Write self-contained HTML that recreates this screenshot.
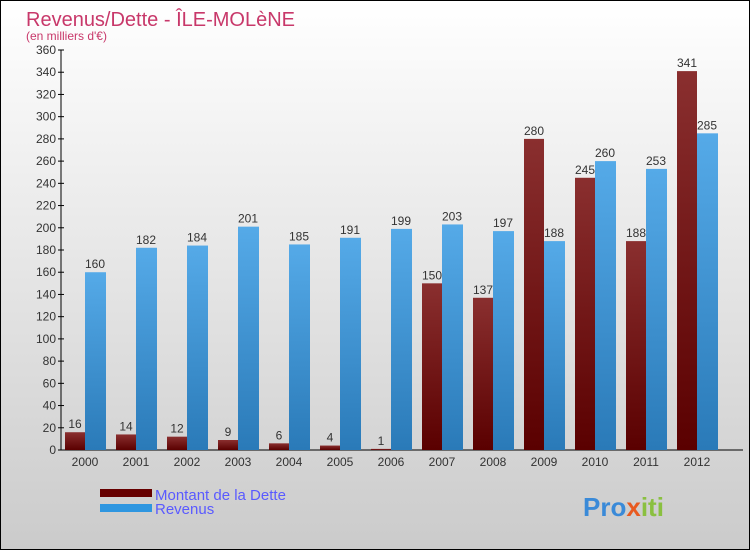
<!DOCTYPE html>
<html><head><meta charset="utf-8"><style>
body{margin:0;width:750px;height:550px;overflow:hidden}
#c{position:absolute;left:0;top:0;width:748px;height:548px;border:1px solid #000;background:linear-gradient(#fff,#cbcbcb)}
svg{position:absolute;left:0;top:0}
text{font-family:"Liberation Sans",sans-serif}
</style></head><body>
<div id="c"></div>
<svg id="s" width="750" height="550">
<defs>
<linearGradient id="gd" x1="0" y1="0" x2="0" y2="1"><stop offset="0" stop-color="#8a2f2f"/><stop offset="1" stop-color="#5a0000"/></linearGradient>
<linearGradient id="gr" x1="0" y1="0" x2="0" y2="1"><stop offset="0" stop-color="#55aae8"/><stop offset="1" stop-color="#2a7ab8"/></linearGradient>
</defs>
<text x="26" y="26" font-size="20" fill="#c8386a">Revenus/Dette - ÎLE-MOLèNE</text>
<text x="26" y="40" font-size="12" fill="#c8386a">(en milliers d'€)</text>
<g id="plot"></g>
<rect x="100" y="489" width="52" height="8" fill="#660000"/>
<text x="155" y="500" font-size="15" fill="#5a5aff">Montant de la Dette</text>
<rect x="100" y="504" width="52" height="8" fill="#2e96e0"/>
<text x="155" y="514" font-size="15" fill="#5a5aff">Revenus</text>
<text x="583" y="516" font-size="26" font-weight="bold"><tspan fill="#3a8ad8">Pro</tspan><tspan fill="#e85a20">x</tspan><tspan fill="#8ac040">iti</tspan></text>
</svg>
<script>
const years=["2000","2001","2002","2003","2004","2005","2006","2007","2008","2009","2010","2011","2012"];
const debt=[16,14,12,9,6,4,1,150,137,280,245,188,341];
const revenue=[160,182,184,201,185,191,199,203,197,188,260,253,285];
const yTicks=[0,20,40,60,80,100,120,140,160,180,200,220,240,260,280,300,320,340,360];
const NS="http://www.w3.org/2000/svg";
const g=document.getElementById('plot');
const y0=450,yMax=360,ph=400,x0=85,step=51,bw=20;
const yS=v=>y0-v/yMax*ph;
const xS=i=>x0+i*step;
function mk(t,a){const e=document.createElementNS(NS,t);for(const k in a)e.setAttribute(k,a[k]);g.appendChild(e);return e;}
let ax=mk('line',{x1:61,y1:50,x2:61,y2:450,stroke:'#000'});


let xa=mk('line',{x1:61,y1:450,x2:743,y2:450,stroke:'#000'});


yTicks.forEach(v=>{
 const t=mk('line',{x1:58,x2:64,y1:yS(v),y2:yS(v),stroke:'#000'});
 
 
 const l=mk('text',{x:56,y:yS(v)+4,'font-size':12,'text-anchor':'end',fill:'#333'});
 l.textContent=v;
 
 
});
years.forEach((yr,i)=>{
 const cx=xS(i);
 const lb=mk('text',{x:cx,y:466,'font-size':12,'text-anchor':'middle',fill:'#333'});
 lb.textContent=yr;
 
 
 const d=mk('rect',{x:cx-bw,y:yS(debt[i]),width:bw,height:y0-yS(debt[i]),fill:'url(#gd)'});
 
 
 const r=mk('rect',{x:cx,y:yS(revenue[i]),width:bw+1,height:y0-yS(revenue[i]),fill:'url(#gr)'});
 
 
 const dl=mk('text',{x:cx-bw/2,y:yS(debt[i])-4,'font-size':12,'text-anchor':'middle',fill:'#333'});
 dl.textContent=debt[i];
 
 
 const rl=mk('text',{x:cx+bw/2,y:yS(revenue[i])-4,'font-size':12,'text-anchor':'middle',fill:'#333'});
 rl.textContent=revenue[i];
 
 
});
</script>
</body></html>
